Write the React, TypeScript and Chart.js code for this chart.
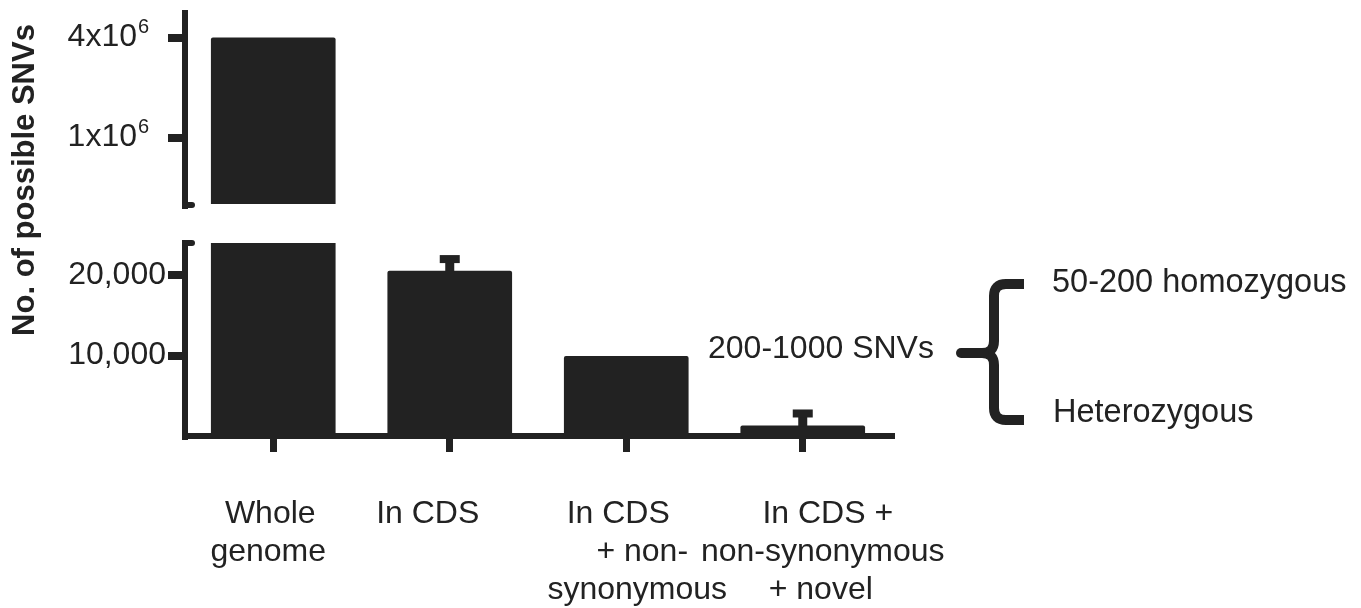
import React, { useEffect, useRef } from 'react';
import { Chart, registerables } from 'chart.js';

Chart.register(...registerables);

// ---------- data ----------
const CATEGORIES: string[][] = [
  ['Whole', 'genome'],
  ['In CDS'],
  ['In CDS', '+ non-', 'synonymous'],
  ['In CDS +', 'non-synonymous', '+ novel'],
];
const SNV_COUNTS = [4000000, 20500, 9900, 1250];
const ERROR_TOP: (number | null)[] = [null, 22000, null, 2800];
const TOP_TICKS = [1000000, 4000000];
const TOP_TICK_BASES = ['1x10', '4x10'];
const TOP_TICK_EXPONENTS = ['6', '6'];
const BOTTOM_TICKS = [10000, 20000];
const TOP_RANGE = [395000, 5640000];
const BOTTOM_RANGE = [0, 24000];
const Y_TITLE = 'No. of possible SNVs';
const NOTE_TOTAL = '200-1000 SNVs';
const NOTE_HOM = '50-200 homozygous';
const NOTE_HET = 'Heterozygous';

// ---------- style ----------
const INK = '#222222';
const FONT = "'Liberation Sans', Arial, Helvetica, sans-serif";
const W = 1361;
const H = 608;
const AXIS_LEFT = 185;
const RIGHT_PAD = W - 891;
const LABEL_DX: number[][] = [[-3, -5], [-22], [-8, 16, 11], [25, 20, 18]];

function hookPlugin(which: 'top' | 'bottom') {
  return {
    id: 'hook-' + which,
    afterDraw(chart: any) {
      const { ctx, chartArea } = chart;
      const y = which === 'top' ? chartArea.bottom : chartArea.top;
      ctx.save();
      ctx.strokeStyle = INK;
      ctx.lineWidth = 6;
      ctx.lineCap = 'round';
      ctx.beginPath();
      ctx.moveTo(chartArea.left, y);
      ctx.lineTo(chartArea.left + 7, y);
      ctx.stroke();
      ctx.restore();
    },
  };
}

const topTickLabels = {
  id: 'topTickLabels',
  afterDraw(chart: any) {
    const { ctx } = chart;
    const ys = chart.scales.y;
    ctx.save();
    ctx.fillStyle = INK;
    ctx.textBaseline = 'alphabetic';
    TOP_TICKS.forEach((v, i) => {
      const y = ys.getPixelForValue(v);
      ctx.font = `32px ${FONT}`;
      ctx.textAlign = 'right';
      ctx.fillText(TOP_TICK_BASES[i], 137, y + 8.5);
      ctx.font = `20px ${FONT}`;
      ctx.textAlign = 'left';
      ctx.fillText(TOP_TICK_EXPONENTS[i], 138, y - 5);
    });
    ctx.restore();
  },
};

const errorBars = {
  id: 'errorBars',
  afterDatasetsDraw(chart: any) {
    const { ctx } = chart;
    const meta = chart.getDatasetMeta(0);
    const ys = chart.scales.y;
    ctx.save();
    ctx.fillStyle = INK;
    ERROR_TOP.forEach((e, i) => {
      if (e == null) return;
      const bar = meta.data[i];
      const ye = ys.getPixelForValue(e);
      ctx.fillRect(bar.x - 4.5, ye, 9, bar.y - ye + 1);
      ctx.fillRect(bar.x - 10, ye - 4, 20, 8);
    });
    ctx.restore();
  },
};

const annotations = {
  id: 'annotations',
  afterDraw(chart: any) {
    const { ctx, chartArea } = chart;
    const xs = chart.scales.x;
    ctx.save();
    ctx.fillStyle = INK;
    // y title
    ctx.save();
    ctx.translate(34, 180);
    ctx.rotate(-Math.PI / 2);
    ctx.font = `bold 31px ${FONT}`;
    ctx.textAlign = 'center';
    ctx.textBaseline = 'alphabetic';
    ctx.fillText(Y_TITLE, 0, 0);
    ctx.restore();
    // x labels
    ctx.font = `32px ${FONT}`;
    ctx.textAlign = 'center';
    ctx.textBaseline = 'alphabetic';
    CATEGORIES.forEach((lines, i) => {
      const cx = xs.getPixelForValue(i);
      lines.forEach((t, j) => {
        ctx.fillText(t, cx + LABEL_DX[i][j], chartArea.bottom + 87 + 38 * j);
      });
    });
    // notes
    ctx.textAlign = 'left';
    ctx.fillText(NOTE_TOTAL, 708, 358);
    ctx.font = `32.5px ${FONT}`;
    ctx.fillText(NOTE_HOM, 1052, 292);
    ctx.fillText(NOTE_HET, 1053, 422);
    // brace
    ctx.strokeStyle = INK;
    ctx.lineWidth = 10;
    ctx.lineCap = 'butt';
    ctx.lineJoin = 'round';
    ctx.beginPath();
    ctx.moveTo(1024, 284);
    ctx.lineTo(1006, 284);
    ctx.quadraticCurveTo(994, 284, 994, 296);
    ctx.lineTo(994, 341);
    ctx.quadraticCurveTo(994, 353, 982, 353);
    ctx.moveTo(1024, 420);
    ctx.lineTo(1006, 420);
    ctx.quadraticCurveTo(994, 420, 994, 408);
    ctx.lineTo(994, 365);
    ctx.quadraticCurveTo(994, 353, 982, 353);
    ctx.stroke();
    ctx.lineCap = 'round';
    ctx.beginPath();
    ctx.moveTo(984, 353);
    ctx.lineTo(961, 353);
    ctx.stroke();
    ctx.restore();
  },
};

function baseDataset(clip: any) {
  return {
    data: SNV_COUNTS,
    backgroundColor: INK,
    barThickness: 124,
    borderRadius: 2,
    clip,
  };
}

export default function App() {
  const topRef = useRef<HTMLCanvasElement>(null);
  const botRef = useRef<HTMLCanvasElement>(null);

  useEffect(() => {
    Chart.defaults.font.family = FONT;
    const labels = CATEGORIES.map((c) => c.join(' '));

    const top = new Chart(topRef.current!, {
      type: 'bar',
      data: { labels, datasets: [baseDataset({ left: 0, top: 0, right: 0, bottom: -1 }) as any] },
      options: {
        animation: false,
        responsive: false,
        layout: { padding: { top: 13, bottom: H - 205, left: 0, right: RIGHT_PAD } },
        plugins: { legend: { display: false }, tooltip: { enabled: false } },
        scales: {
          x: { display: false, offset: true },
          y: {
            type: 'logarithmic',
            min: TOP_RANGE[0],
            max: TOP_RANGE[1],
            afterBuildTicks: (s: any) => {
              s.ticks = TOP_TICKS.map((v) => ({ value: v }));
            },
            afterFit: (s: any) => {
              s.width = AXIS_LEFT;
            },
            ticks: { display: false },
            grid: { drawOnChartArea: false, drawTicks: true, tickLength: 17, lineWidth: 8, color: INK },
            border: { display: true, width: 6, color: INK },
          },
        },
      },
      plugins: [topTickLabels, hookPlugin('top')],
    });

    const bottom = new Chart(botRef.current!, {
      type: 'bar',
      data: { labels, datasets: [baseDataset(0) as any] },
      options: {
        animation: false,
        responsive: false,
        layout: { padding: { top: 243, bottom: 0, left: 0, right: RIGHT_PAD } },
        plugins: { legend: { display: false }, tooltip: { enabled: false } },
        scales: {
          x: {
            offset: true,
            afterFit: (s: any) => {
              s.height = H - 436;
            },
            ticks: { display: false },
            grid: { offset: false, drawOnChartArea: false, drawTicks: true, tickLength: 16, lineWidth: 7, color: INK },
            border: { display: true, width: 6, color: INK },
          },
          y: {
            min: BOTTOM_RANGE[0],
            max: BOTTOM_RANGE[1],
            afterBuildTicks: (s: any) => {
              s.ticks = BOTTOM_TICKS.map((v) => ({ value: v }));
            },
            afterFit: (s: any) => {
              s.width = AXIS_LEFT;
            },
            ticks: {
              padding: 2,
              color: INK,
              font: { size: 32, family: FONT },
              callback: (v: any) => Number(v).toLocaleString('en-US'),
            },
            grid: { drawOnChartArea: false, drawTicks: true, tickLength: 17, lineWidth: 8, color: INK },
            border: { display: true, width: 6, color: INK },
          },
        },
      },
      plugins: [errorBars, annotations, hookPlugin('bottom')],
    });

    return () => {
      top.destroy();
      bottom.destroy();
    };
  }, []);

  const canvasStyle: React.CSSProperties = { position: 'absolute', left: 0, top: 0 };
  return (
    <div style={{ position: 'absolute', left: 0, top: 0, width: W, height: H, background: '#fff' }}>
      <canvas ref={topRef} width={W} height={H} style={canvasStyle} />
      <canvas ref={botRef} width={W} height={H} style={canvasStyle} />
    </div>
  );
}
